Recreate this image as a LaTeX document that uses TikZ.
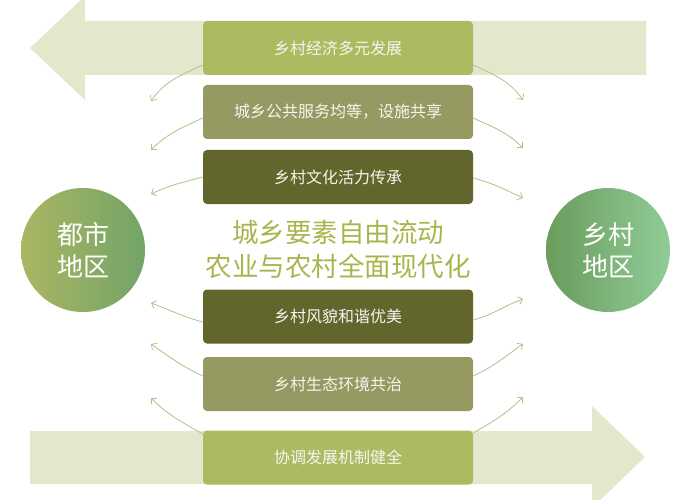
\documentclass[tikz,border=0pt]{standalone}
\usepackage{fontspec}
\newfontfamily\cjk{Noto Sans CJK SC}
\usetikzlibrary{arrows.meta}
\definecolor{bigarrow}{HTML}{E3E8CD}
\definecolor{boxA}{HTML}{ADBA62}
\definecolor{boxB}{HTML}{979963}
\definecolor{boxC}{HTML}{62652C}
\definecolor{flow}{HTML}{B6BD88}
\definecolor{maintext}{HTML}{A9B54C}
\definecolor{boxtext}{HTML}{F6F6EE}
\definecolor{cLl}{HTML}{ABB662}
\definecolor{cLr}{HTML}{72A468}
\definecolor{cRl}{HTML}{6A9C5C}
\definecolor{cRr}{HTML}{90CC97}
\tikzset{
  bar/.style={rounded corners=4pt, minimum width=270pt, minimum height=54pt, inner sep=0pt,
    text=boxtext, font=\cjk\fontsize{16}{19}\selectfont},
  region/.style={circle, minimum size=124pt, inner sep=0pt, text=white,
    font=\cjk\fontsize{26}{32}\selectfont, align=center},
  flowline/.style={draw=flow, line width=0.8pt, -{Straight Barb[length=4pt,width=8pt]}},
}
\begin{document}
\begin{tikzpicture}[x=1pt,y=-1pt]
\useasboundingbox (0,0) rectangle (675,500);
\clip (0,0) rectangle (675,500);
% big arrows
\fill[bigarrow] (646,21) -- (85,21) -- (85,-4) -- (30,48) -- (85,100) -- (85,75) -- (646,75) -- cycle;
\fill[bigarrow] (30,431) -- (592,431) -- (592,406) -- (645,457) -- (592,508) -- (592,484) -- (30,484) -- cycle;
% boxes
\node[bar, fill=boxA] (b1) at (338,48) {乡村经济多元发展};
\node[bar, fill=boxB] (b2) at (338,112) {城乡公共服务均等，设施共享};
\node[bar, fill=boxC] (b3) at (338,177) {乡村文化活力传承};
\node[bar, fill=boxC] (b4) at (338,316.5) {乡村风貌和谐优美};
\node[bar, fill=boxB] (b5) at (338,384) {乡村生态环境共治};
\node[bar, fill=boxA] (b6) at (338,457.5) {协调发展机制健全};
% central text
\node[text=maintext, font=\cjk\fontsize{26.5}{34}\selectfont, align=center] (mid) at (338,249)
  {城乡要素自由流动\\农业与农村全面现代化};
% circles
\node[region, left color=cLl, right color=cLr] (city) at (83,250) {都市\\地区};
\node[region, left color=cRl, right color=cRr] (rural) at (608,250) {乡村\\地区};
% free ends
\coordinate (l1) at (151,101);
\coordinate (l2) at (151,150);
\coordinate (l3) at (151,194);
\coordinate (l4) at (151,303);
\coordinate (l5) at (151,344);
\coordinate (l6) at (151,398);
\coordinate (r1) at (523,100);
\coordinate (r2) at (523,148);
\coordinate (r3) at (523,198);
\coordinate (r4) at (523,299);
\coordinate (r5) at (523,344);
\coordinate (r6) at (523,397);
% connectors left
\draw[flowline] ([yshift=-17pt]b1.west) to[out=205,in=55] (l1);
\draw[flowline] ([yshift=-6pt]b2.west) to[out=205,in=45] (l2);
\draw[flowline] (b3.west) to[out=195,in=25] (l3);
\draw[flowline] ([yshift=-5.5pt]b4.west) to[out=165,in=-20] (l4);
\draw[flowline] ([yshift=8pt]b5.west) to[out=155,in=-35] (l5);
\draw[flowline] ([yshift=23.5pt]b6.west) to[out=150,in=-45] (l6);
% connectors right
\draw[flowline] ([yshift=-17pt]b1.east) to[out=-25,in=125] (r1);
\draw[flowline] ([yshift=-6pt]b2.east) to[out=-25,in=135] (r2);
\draw[flowline] ([yshift=-1pt]b3.east) to[out=-15,in=155] (r3);
\draw[flowline] ([yshift=-3.5pt]b4.east) to[out=15,in=200] (r4);
\draw[flowline] ([yshift=8pt]b5.east) to[out=25,in=215] (r5);
\draw[flowline] ([yshift=24.5pt]b6.east) to[out=30,in=225] (r6);
\end{tikzpicture}
\end{document}
